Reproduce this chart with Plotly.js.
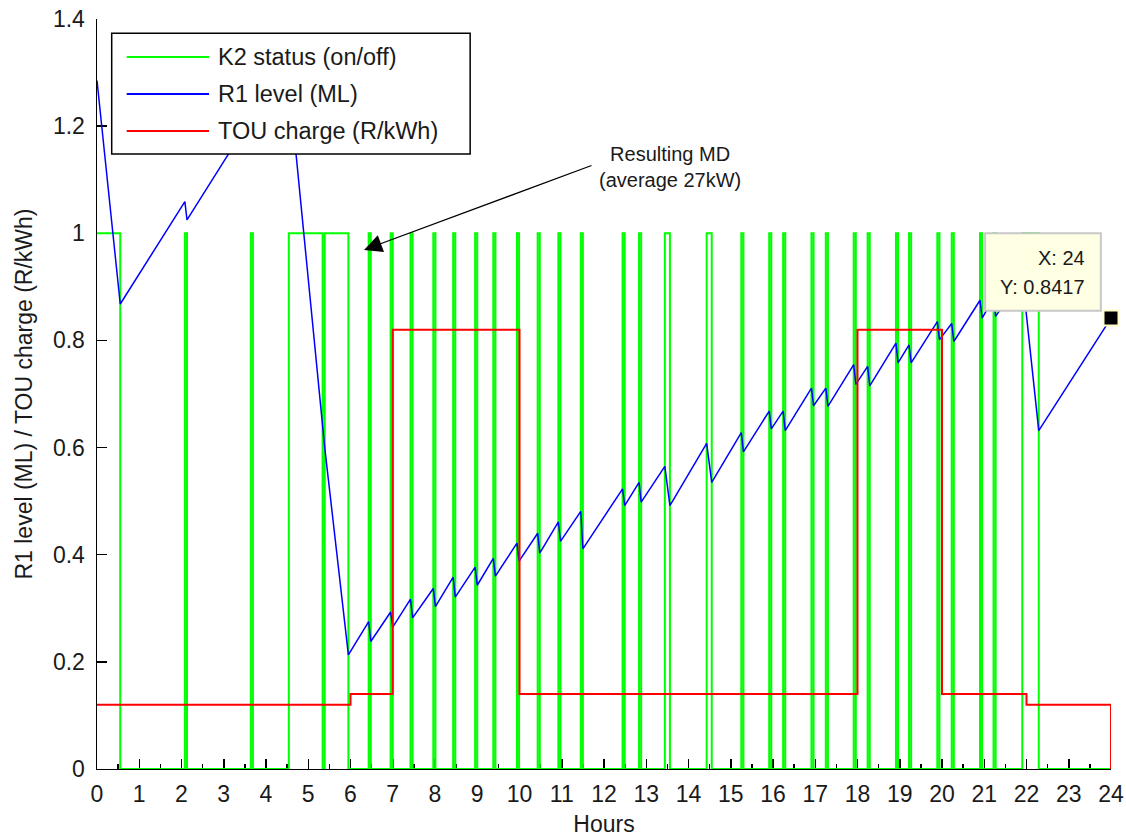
<!DOCTYPE html>
<html>
<head>
<meta charset="utf-8">
<script src="https://cdn.plot.ly/plotly-3.0.1.min.js"></script>
<style>
html,body{margin:0;padding:0;background:#fff;}
#chart{width:1126px;height:838px;}
</style>
</head>
<body>
<div id="chart"></div>
<script>
// ---- Data ----
// K2 pump "on" intervals (hours)
const k2OnStart = [0, 2.08, 3.64, 4.54, 5.39, 6.43, 6.95, 7.42, 7.96, 8.43, 8.95, 9.38, 9.94, 10.43, 10.92, 11.45,
  12.44, 12.83, 13.44, 14.43, 15.25, 15.91, 16.24, 16.91, 17.25, 17.91, 18.24, 18.91, 19.22, 19.89, 20.23, 20.90, 21.22, 21.90];
const k2OnEnd   = [0.55, 2.13, 3.69, 5.34, 5.95, 6.48, 7.00, 7.47, 8.01, 8.48, 9.00, 9.43, 9.99, 10.48, 10.97, 11.50,
  12.49, 12.88, 13.56, 14.55, 15.30, 15.96, 16.29, 16.96, 17.30, 17.96, 18.29, 18.96, 19.27, 19.94, 20.28, 20.95, 21.27, 22.29];
const simEnd = 24;

// R1 reservoir level (ML)
const r1Hours = [0, 0.55, 2.08, 2.13, 3.64, 3.69, 4.54, 5.34, 5.39, 5.95,
  6.43, 6.48, 6.95, 7.00, 7.42, 7.47, 7.96, 8.01, 8.43, 8.48, 8.95, 9.00, 9.38, 9.43, 9.94, 9.99,
  10.43, 10.48, 10.92, 10.97, 11.45, 11.50, 12.44, 12.49, 12.83, 12.88, 13.44, 13.56, 14.43, 14.55,
  15.25, 15.30, 15.91, 15.96, 16.24, 16.29, 16.91, 16.96, 17.25, 17.30, 17.91, 17.96, 18.24, 18.29,
  18.91, 18.96, 19.22, 19.27, 19.89, 19.94, 20.23, 20.28, 20.90, 20.95, 21.22, 21.27, 21.90, 22.29, 24];
const r1Level = [1.285, 0.868, 1.059, 1.025, 1.214, 1.18, 1.286, 0.645, 0.60, 0.213,
  0.275, 0.238, 0.293, 0.265, 0.317, 0.282, 0.337, 0.303, 0.358, 0.321, 0.377, 0.343, 0.393, 0.360, 0.4215, 0.388,
  0.440, 0.403, 0.4615, 0.425, 0.481, 0.411, 0.523, 0.4915, 0.535, 0.498, 0.565, 0.4915, 0.608, 0.535,
  0.628, 0.592, 0.668, 0.635, 0.668, 0.6315, 0.711, 0.678, 0.711, 0.677, 0.755, 0.718, 0.7515, 0.715,
  0.795, 0.758, 0.7915, 0.758, 0.835, 0.8015, 0.8315, 0.798, 0.875, 0.8415, 0.879, 0.845, 0.92, 0.6315, 0.8417];

// Time-of-use charge (R/kWh), step function
const touHours  = [0, 6, 7, 10, 18, 20, 22, 24];
const touCharge = [0.12, 0.14, 0.82, 0.14, 0.82, 0.14, 0.12, 0];

const seriesNames = ['K2 status (on/off)', 'R1 level (ML)', 'TOU charge (R/kWh)'];
const xTitle = 'Hours';
const yTitle = 'R1 level (ML) / TOU charge (R/kWh)';
const mdNote = 'Resulting MD<br>(average 27kW)';

// ---- Styles ----
const cGreen = '#00ff00', cBlue = '#0000ff', cRed = '#ff0000';
const FONT = 'Liberation Sans, Arial, sans-serif';
const txtColor = '#1a1a1a';

// Build K2 step trace from the on/off intervals
const k2x = [], k2y = [];
for (let i = 0; i < k2OnStart.length; i++) {
  const s = k2OnStart[i], e = k2OnEnd[i];
  if (s === 0) { k2x.push(s); k2y.push(1); }
  else { k2x.push(s, s); k2y.push(0, 1); }
  k2x.push(e, e); k2y.push(1, 0);
}
k2x.push(simEnd); k2y.push(0);

const lastX = r1Hours[r1Hours.length - 1];
const lastY = r1Level[r1Level.length - 1];

const traces = [
  {x: k2x, y: k2y, type: 'scatter', mode: 'lines', name: seriesNames[0],
   line: {color: cGreen, width: 2}, cliponaxis: false, showlegend: false, hoverinfo: 'skip'},
  {x: r1Hours, y: r1Level, type: 'scatter', mode: 'lines', name: seriesNames[1],
   line: {color: cBlue, width: 1.5}, cliponaxis: false, showlegend: false},
  {x: touHours, y: touCharge, type: 'scatter', mode: 'lines', name: seriesNames[2],
   line: {color: cRed, width: 2, shape: 'hv'}, cliponaxis: false, showlegend: false},
  {x: [lastX], y: [lastY], type: 'scatter', mode: 'markers', showlegend: false,
   marker: {symbol: 'square', size: 15, color: '#000', line: {color: 'rgb(255,255,200)', width: 2}}, cliponaxis: false}
];

// Manual legend (MATLAB style: long line samples)
const legRows = [0.9493, 0.900, 0.8507];
const legColors = [cGreen, cBlue, cRed];
const shapes = [
  {type: 'rect', xref: 'paper', yref: 'paper', x0: 0.0145, x1: 0.368, y0: 0.82, y1: 0.981,
   fillcolor: '#ffffff', line: {color: '#000', width: 1.5}, layer: 'above'},
  // datatip box
  {type: 'rect', xref: 'x', yref: 'y', x0: 21.02, x1: 23.76, y0: 0.8555, y1: 1.0,
   fillcolor: 'rgb(255,255,228)', line: {color: '#c8c8c8', width: 2}, layer: 'above'}
];
const annotations = [];
legRows.forEach((yy, i) => {
  shapes.push({type: 'line', xref: 'paper', yref: 'paper', x0: 0.0293, x1: 0.1105, y0: yy, y1: yy,
    line: {color: legColors[i], width: 2}, layer: 'above'});
  annotations.push({xref: 'paper', yref: 'paper', x: 0.1174, y: yy, xanchor: 'left', yanchor: 'middle',
    text: seriesNames[i], showarrow: false, font: {family: FONT, size: 23.5, color: txtColor}});
});
annotations.push(
  {xref: 'x', yref: 'y', x: 13.56, y: 1.123, text: mdNote, showarrow: false,
   font: {family: FONT, size: 20, color: txtColor}, align: 'center'},
  {xref: 'x', yref: 'y', x: 6.32, y: 0.969, axref: 'x', ayref: 'y', ax: 11.74, ay: 1.1275,
   text: '', showarrow: true, arrowhead: 2, arrowsize: 3, arrowwidth: 1.2, arrowcolor: '#000', standoff: 0},
  {xref: 'x', yref: 'y', x: 23.43, y: 0.9545, xanchor: 'right', yanchor: 'middle',
   text: 'X: ' + lastX, showarrow: false, font: {family: FONT, size: 20, color: txtColor}},
  {xref: 'x', yref: 'y', x: 23.43, y: 0.9003, xanchor: 'right', yanchor: 'middle',
   text: 'Y: ' + lastY.toFixed(4), showarrow: false, font: {family: FONT, size: 20, color: txtColor}}
);

const layout = {
  width: 1126, height: 838,
  margin: {l: 97, r: 15, t: 19, b: 69, pad: 0},
  paper_bgcolor: '#fff', plot_bgcolor: '#fff',
  showlegend: false,
  font: {family: FONT, size: 23, color: txtColor},
  xaxis: {
    range: [0, 24], dtick: 1, tick0: 0, showgrid: false, zeroline: false,
    showline: true, linecolor: '#000', linewidth: 1, layer: 'below traces',
    ticks: 'inside', ticklen: 10, tickwidth: 1.5, tickcolor: '#000',
    minor: {dtick: 0.5, ticks: 'inside', ticklen: 5, tickwidth: 1.5, tickcolor: '#000', showgrid: false},
    tickfont: {family: FONT, size: 23, color: txtColor}, ticklabelstandoff: 4,
    title: {text: xTitle, font: {family: FONT, size: 23, color: txtColor}, standoff: 10}
  },
  yaxis: {
    range: [0, 1.4], dtick: 0.2, tick0: 0, showgrid: false, zeroline: false,
    showline: true, linecolor: '#000', linewidth: 1.5, layer: 'below traces',
    ticks: 'inside', ticklen: 10, tickwidth: 1.5, tickcolor: '#000',
    tickfont: {family: FONT, size: 23, color: txtColor}, ticklabelstandoff: 6,
    title: {text: yTitle, font: {family: FONT, size: 23, color: txtColor}, standoff: 14}
  },
  shapes: shapes,
  annotations: annotations
};

Plotly.newPlot('chart', traces, layout, {displayModeBar: false, staticPlot: true});
</script>
</body>
</html>
